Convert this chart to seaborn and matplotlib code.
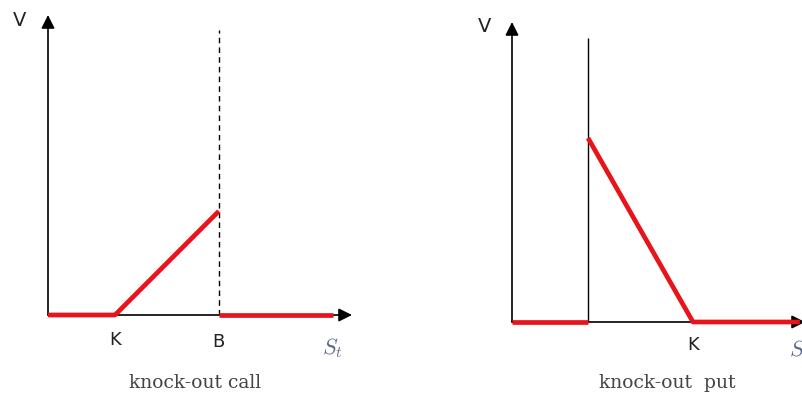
import matplotlib
matplotlib.use("Agg")
import matplotlib.pyplot as plt
import seaborn as sns

sns.set_theme(style="white")
plt.rcParams["font.family"] = ["DejaVu Sans"]
plt.rcParams["mathtext.fontset"] = "cm"

RED = "#e8141c"
LABEL_COLOR = "#222222"
ST_COLOR = "#5b6b8c"
CAPTION_COLOR = "#444444"

# knock-out call: strike K, barrier B (above K)
CALL_K = 2.0
CALL_B = 5.1
call_s_live = [0.0, CALL_K, CALL_B]
call_v_live = [0.0, 0.0, CALL_B - CALL_K]
call_s_out = [CALL_B, 8.5]
call_v_out = [0.0, 0.0]

# knock-out put: barrier H (below K), strike K
PUT_H = 2.1
PUT_K = 5.0
put_s_out = [0.0, PUT_H]
put_v_out = [0.0, 0.0]
put_s_live = [PUT_H, PUT_K, 7.95]
put_v_live = [PUT_K - PUT_H, 0.0, 0.0]


def draw_axes(ax, xmax, ymax):
    arrow = dict(arrowstyle="-|>", color="black", lw=1.2,
                 mutation_scale=20, shrinkA=0, shrinkB=0)
    ax.annotate("", xy=(xmax, 0), xytext=(0, 0), arrowprops=arrow,
                annotation_clip=False)
    ax.annotate("", xy=(0, ymax), xytext=(0, 0), arrowprops=arrow,
                annotation_clip=False)


def payoff(ax, s, v):
    sns.lineplot(x=s, y=v, ax=ax, color=RED, lw=3.4, sort=False,
                 estimator=None, clip_on=False, zorder=5,
                 solid_capstyle="butt")


fig = plt.figure(figsize=(8.02, 3.94), dpi=100)

# left panel
ax1 = fig.add_axes([48 / 802, 79 / 394, 304 / 802, 300 / 394])
ax1.set_xlim(0, 304 / 33.5)
ax1.set_ylim(0, 300 / 33.5)
ax1.axis("off")
draw_axes(ax1, 304 / 33.5, 300 / 33.5)
ax1.vlines(CALL_B, 0, 8.5, colors="black", linestyles=(0, (4, 3)), lw=1.0)
payoff(ax1, call_s_live, call_v_live)
payoff(ax1, call_s_out, call_v_out)
ax1.text(-0.84, 8.8, "V", fontsize=14, ha="center", va="center", color=LABEL_COLOR)
ax1.text(CALL_K, -0.75, "K", fontsize=13, ha="center", va="center", color=LABEL_COLOR)
ax1.text(CALL_B, -0.8, "B", fontsize=13, ha="center", va="center", color=LABEL_COLOR)
ax1.text(8.5, -1.0, r"$S_t$", fontsize=16, ha="center", va="center", color=ST_COLOR)

# right panel
ax2 = fig.add_axes([512 / 802, 72 / 394, 293 / 802, 300 / 394])
ax2.set_xlim(0, 293 / 36.2)
ax2.set_ylim(0, 300 / 63.45)
ax2.axis("off")
draw_axes(ax2, 293 / 36.2, 300 / 63.45)
ax2.vlines(PUT_H, 0, 4.48, colors="black", lw=1.0)
payoff(ax2, put_s_out, put_v_out)
payoff(ax2, put_s_live, put_v_live)
ax2.text(-0.75, 4.65, "V", fontsize=14, ha="center", va="center", color=LABEL_COLOR)
ax2.text(PUT_K, -0.36, "K", fontsize=13, ha="center", va="center", color=LABEL_COLOR)
ax2.text(7.95, -0.44, r"$S_t$", fontsize=16, ha="center", va="center", color=ST_COLOR)

fig.text(195 / 802, 1 - 383 / 394, "knock-out call", family="DejaVu Serif",
         fontsize=13.5, ha="center", va="center", color=CAPTION_COLOR)
fig.text(667 / 802, 1 - 383 / 394, "knock-out  put", family="DejaVu Serif",
         fontsize=13.5, ha="center", va="center", color=CAPTION_COLOR)

fig.savefig("out.png", dpi=100)
